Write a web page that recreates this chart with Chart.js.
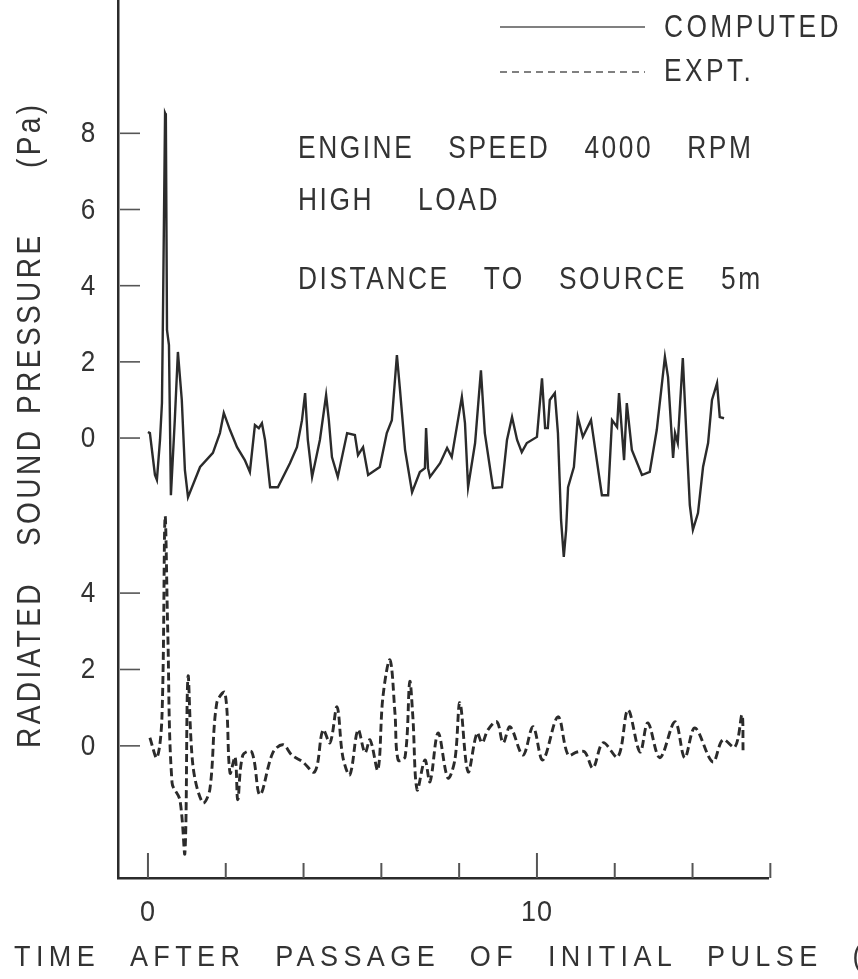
<!DOCTYPE html>
<html>
<head>
<meta charset="utf-8">
<script src="https://cdn.jsdelivr.net/npm/chart.js@4.4.1/dist/chart.umd.min.js"></script>
<style>
  html, body { margin: 0; padding: 0; background: #fff; }
</style>
</head>
<body>
<canvas id="chart" width="858" height="979"></canvas>
<script>
// computed trace (upper), time in ms after the initial pulse, pressure in Pa
const computedTime = [0.00, 0.05, 0.18, 0.23, 0.31, 0.36, 0.39, 0.44, 0.46, 0.49, 0.54, 0.59, 0.69, 0.77, 0.87, 0.95,
  1.03, 1.34, 1.67, 1.85, 1.95, 2.11, 2.29, 2.49, 2.62, 2.75, 2.85, 2.93, 3.01, 3.14, 3.34, 3.65, 3.83, 3.96, 4.04,
  4.11, 4.22, 4.42, 4.58, 4.65, 4.73, 4.88, 5.12, 5.32, 5.40, 5.53, 5.66, 5.96, 6.14, 6.27, 6.40, 6.48, 6.61, 6.79,
  6.99, 7.12, 7.15, 7.20, 7.25, 7.51, 7.69, 7.81, 8.07, 8.15, 8.23, 8.41, 8.56, 8.66, 8.87, 9.10, 9.23, 9.36, 9.49,
  9.61, 9.74, 10.00, 10.13, 10.21, 10.28, 10.33, 10.46, 10.54, 10.62, 10.69, 10.75, 10.80, 10.95, 11.05, 11.18,
  11.39, 11.49, 11.67, 11.83, 11.93, 12.06, 12.11, 12.24, 12.31, 12.44, 12.70, 12.90, 13.08, 13.29, 13.37, 13.50,
  13.55, 13.62, 13.75, 13.86, 13.93, 14.01, 14.14, 14.27, 14.40, 14.50, 14.63, 14.70, 14.81];
const computedPressure = [0.16, 0.13, -0.97, -1.10, -0.05, 0.92, 3.62, 8.53, 8.48, 2.83, 2.44, -1.50, 0.47, 2.26, 1.00, -0.84,
  -1.55, -0.76, -0.39, 0.13, 0.66, 0.21, -0.24, -0.58, -0.89, 0.34, 0.26, 0.39, -0.05, -1.29, -1.29, -0.66, -0.24, 0.47, 1.18,
  -0.05, -1.02, -0.05, 1.13, 0.47, -0.50, -1.02, 0.13, 0.08, -0.45, -0.24, -0.97, -0.76, 0.13, 0.47, 2.18, 1.26, -0.31, -1.42,
  -0.89, -0.79, 0.26, -0.79, -1.02, -0.66, -0.26, -0.50, 1.08, 0.39, -1.29, -0.13, 1.78, 0.13, -1.31, -1.29, -0.05, 0.55,
  -0.05, -0.37, -0.13, 0.03, 1.57, 0.26, 0.26, 1.00, 1.18, 0.13, -2.15, -3.12, -2.41, -1.29, -0.76, 0.55, 0.03,
  0.47, -0.24, -1.50, -1.50, 0.47, 0.29, 1.18, -0.58, 0.92, -0.31, -0.97, -0.89, 0.21, 2.13, 1.60, -0.52,
  0.13, -0.13, 2.10, -0.31, -1.76, -2.41, -1.97, -0.76, -0.13, 1.00, 1.44, 0.55, 0.52];

// experimental trace (lower)
const exptTime = [0.05, 0.23, 0.36, 0.44, 0.51, 0.62, 0.82, 0.95, 1.03, 1.16, 1.41, 1.59, 1.77, 1.98, 2.11, 2.24, 2.31,
  2.44, 2.67, 2.88, 3.21, 3.47, 3.70, 3.98, 4.29, 4.50, 4.68, 4.86, 5.01, 5.19, 5.40, 5.58, 5.71, 5.91, 6.04, 6.22,
  6.35, 6.43, 6.61, 6.73, 6.81, 6.92, 7.12, 7.25, 7.46, 7.71, 7.89, 8.02, 8.23, 8.46, 8.59, 8.74, 8.97, 9.13, 9.31,
  9.64, 9.90, 10.15, 10.54, 10.80, 11.03, 11.23, 11.44, 11.70, 12.08, 12.34, 12.65, 12.85, 13.16, 13.55, 13.80,
  14.06, 14.52, 14.78, 15.09, 15.27, 15.30];
const exptPressure = [0.21, -0.31, 0.76, 5.99, 2.96, -0.97, -1.41, -2.80, 1.81, -0.55, -1.49, -1.15, 1.13, 1.39, -0.71, -0.29,
  -1.41, -0.24, -0.16, -1.28, -0.18, 0.03, -0.24, -0.42, -0.68, 0.42, 0.08, 1.02, -0.29, -0.76, 0.42, -0.18, 0.16, -0.63,
  1.28, 2.25, 0.86, -0.37, -0.29, 1.68, 0.76, -1.15, -0.37, -0.94, 0.34, -0.84, -0.37, 1.13, -0.68, 0.34, 0.08, 0.42,
  0.63, 0.08, 0.50, -0.24, 0.50, -0.37, 0.76, -0.24, -0.16, -0.16, -0.58, 0.08, -0.29, 0.94, -0.16, 0.60, -0.31, 0.63,
  -0.31, 0.47, -0.42, 0.16, -0.03, 0.81, -0.16];

const topTicks = [0, 2, 4, 6, 8];
const bottomTicks = [0, 2, 4];
const timeTicks = [0, 2, 4, 6, 8, 10, 12, 14, 16];
const timeLabels = [0, 10];
const notes = [['ENGINE', 'SPEED', '4000', 'RPM'], ['HIGH', 'LOAD'], ['DISTANCE', 'TO', 'SOURCE', '5m']];
const xTitleWords = ['TIME', 'AFTER', 'PASSAGE', 'OF', 'INITIAL', 'PULSE', '(ms)'];
const yTitleWords = ['RADIATED', 'SOUND', 'PRESSURE', '(Pa)'];

const ink = '#2b2b2b';
const textInk = '#333';
const family = '"Liberation Sans", Arial, sans-serif';

const toPoints = (xs, ys) => xs.map((x, i) => ({ x, y: ys[i] }));

// narrow lettering like the stencil text of the original
function setType(ctx, size, spacing) {
  ctx.font = size + 'px ' + family;
  ctx.letterSpacing = spacing + 'px';
}
function word(ctx, text, x, y, sx) {
  ctx.save();
  ctx.translate(x, y);
  ctx.scale(sx, 1);
  ctx.fillText(text, 0, 0);
  const w = ctx.measureText(text).width * sx;
  ctx.restore();
  return w;
}
function line(ctx, words, x, y, sx, gap) {
  let cx = x;
  words.forEach(w => { cx += word(ctx, w, cx, y, sx) + gap; });
}

const paperMarks = {
  id: 'paperMarks',
  afterDraw(chart) {
    const { ctx, scales: { x, yTop, yBot } } = chart;
    ctx.save();
    ctx.strokeStyle = '#555';
    ctx.fillStyle = textInk;
    ctx.lineWidth = 1.6;
    ctx.textBaseline = 'middle';

    // y ticks, drawn inside the frame
    setType(ctx, 29, 0);
    ctx.textAlign = 'center';
    const yMarks = topTicks.map(v => [yTop, v]).concat(bottomTicks.map(v => [yBot, v]));
    yMarks.forEach(([s, v]) => {
      const py = s.getPixelForValue(v);
      ctx.beginPath();
      ctx.moveTo(x.left + 2, py);
      ctx.lineTo(x.left + 22, py);
      ctx.stroke();
      ctx.save();
      ctx.translate(88, py + 1);
      ctx.scale(0.9, 1);
      ctx.fillText(String(v), 0, 0);
      ctx.restore();
    });

    // x ticks
    ctx.lineWidth = 2;
    timeTicks.forEach(t => {
      const px = x.getPixelForValue(t);
      const len = timeLabels.includes(t) ? 25 : 15;
      ctx.beginPath();
      ctx.moveTo(px, x.top);
      ctx.lineTo(px, x.top - len);
      ctx.stroke();
    });
    setType(ctx, 30, 1);
    timeLabels.forEach(t => {
      ctx.save();
      ctx.translate(x.getPixelForValue(t), 913);
      ctx.scale(0.9, 1);
      ctx.fillText(String(t), 0, 0);
      ctx.restore();
    });

    // axis titles
    ctx.textAlign = 'left';
    setType(ctx, 30, 6);
    line(ctx, xTitleWords, 14, 958, 0.9, 29.8);
    setType(ctx, 33, 4);
    ctx.save();
    ctx.translate(31, 0);
    ctx.rotate(-Math.PI / 2);
    const yTitleAt = [-748, -546, -414, -168];
    yTitleWords.forEach((w, i) => word(ctx, w, yTitleAt[i], 0, 0.85));
    ctx.restore();

    // notes
    setType(ctx, 31, 3);
    line(ctx, notes[0], 298, 149, 0.85, 34);
    line(ctx, notes[1], 298, 201, 0.85, 44);
    line(ctx, notes[2], 298, 280, 0.85, 34);

    // legend
    setType(ctx, 31, 4);
    word(ctx, 'COMPUTED', 664, 28, 0.85);
    word(ctx, 'EXPT.', 664, 72, 0.85);
    ctx.strokeStyle = '#808080';
    ctx.lineWidth = 1.8;
    ctx.beginPath();
    ctx.moveTo(500, 27);
    ctx.lineTo(645, 27);
    ctx.stroke();
    ctx.setLineDash([7, 5]);
    ctx.beginPath();
    ctx.moveTo(500, 72);
    ctx.lineTo(645, 72);
    ctx.stroke();
    ctx.restore();
  }
};

new Chart(document.getElementById('chart'), {
  type: 'line',
  data: {
    datasets: [
      {
        label: 'COMPUTED',
        data: toPoints(computedTime, computedPressure),
        yAxisID: 'yTop',
        borderColor: ink,
        borderWidth: 2.4,
        pointRadius: 0,
        tension: 0
      },
      {
        label: 'EXPT.',
        data: toPoints(exptTime, exptPressure),
        yAxisID: 'yBot',
        borderColor: ink,
        borderWidth: 2.9,
        borderDash: [8, 4],
        pointRadius: 0,
        tension: 0.35
      }
    ]
  },
  options: {
    responsive: false,
    animation: false,
    devicePixelRatio: 1,
    layout: { padding: { left: 0, right: 90, top: 0, bottom: 0 } },
    plugins: { legend: { display: false }, tooltip: { enabled: false } },
    scales: {
      x: {
        type: 'linear',
        min: -0.77,
        max: 15.94,
        ticks: { display: false },
        grid: { display: false },
        border: { color: ink, width: 2.5 },
        afterFit: s => { s.height = 101; }
      },
      yTop: {
        type: 'linear',
        position: 'left',
        min: -11.55,
        max: 11.5,
        ticks: { display: false },
        grid: { display: false },
        border: { color: ink, width: 2.5 },
        afterFit: s => { s.width = 118; }
      },
      yBot: {
        type: 'linear',
        display: false,
        min: -3.46,
        max: 19.53
      }
    }
  },
  plugins: [paperMarks]
});
</script>
</body>
</html>
